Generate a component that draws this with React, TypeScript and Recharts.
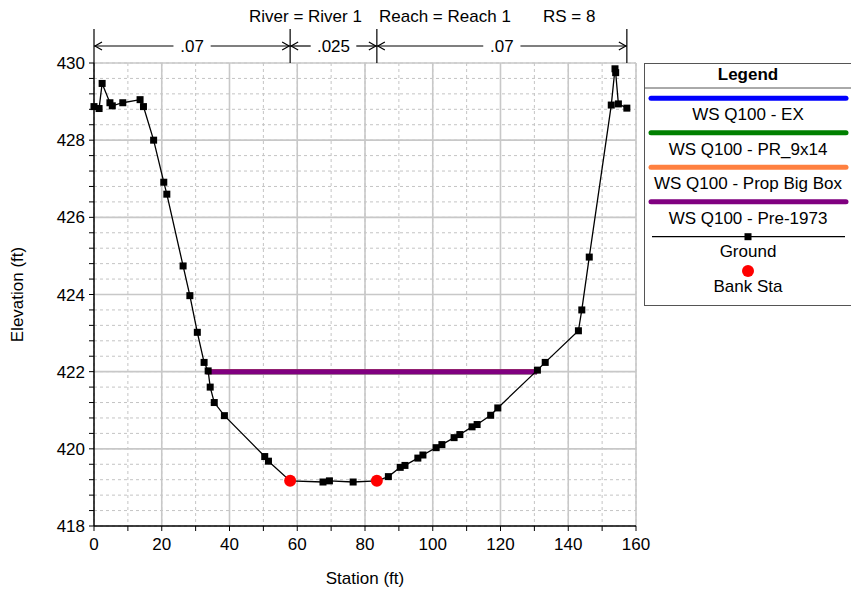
import React from 'react';
import { ComposedChart, Line, Scatter, XAxis, YAxis, CartesianGrid, ReferenceLine } from 'recharts';

// Ground survey points (station ft, elevation ft)
const groundStation = [
  0, 1.5, 2.4, 4.7, 5.4, 8.5, 13.6, 14.6, 17.6, 20.6, 21.5, 26.3, 28.3, 30.5, 32.5, 33.7, 34.3,
  35.5, 38.5, 50.4, 51.5, 57.9, 67.6, 69.5, 76.5, 83.5, 86.9, 90.4, 91.8, 95.6, 97.1, 101.0,
  102.7, 106.3, 108.0, 111.6, 113.1, 117.1, 119.2, 130.9, 133.2, 143.0, 144.0, 146.2, 152.7,
  153.8, 154.0, 154.8, 157.3,
];
const groundElev = [
  428.87, 428.82, 429.47, 428.97, 428.89, 428.97, 429.05, 428.87, 428.0, 426.91, 426.6, 424.74,
  423.97, 423.02, 422.24, 422.02, 421.6, 421.2, 420.86, 419.8, 419.68, 419.17, 419.14, 419.17,
  419.14, 419.17, 419.28, 419.52, 419.57, 419.76, 419.84, 420.03, 420.11, 420.29, 420.37, 420.57,
  420.63, 420.87, 421.06, 422.04, 422.24, 423.06, 423.6, 424.97, 428.91, 429.85, 429.75, 428.94,
  428.83,
];

const bankStation = [57.9, 83.5];
const bankElev = [419.17, 419.17];

// Water surface profiles (all plans give the same WS here)
const wsNames = ['WS Q100 - EX', 'WS Q100 - PR_9x14', 'WS Q100 - Prop Big Box', 'WS Q100 - Pre-1973'];
const wsColors = ['#0000ff', '#008000', '#ff8040', '#800080'];
const wsStation = [33.2, 130.8];
const wsElev = [422.0, 422.0];

// Manning's n between the section ends and bank stations
const nBreaks = [0, 57.9, 83.5, 157.3];
const nValues = ['.07', '.025', '.07'];

const xTicks = [0, 10, 20, 30, 40, 50, 60, 70, 80, 90, 100, 110, 120, 130, 140, 150, 160];
const xMajor = [20, 40, 60, 80, 100, 120, 140, 160];
const yTicks = [
  418, 418.4, 418.8, 419.2, 419.6, 420, 420.4, 420.8, 421.2, 421.6, 422, 422.4, 422.8, 423.2,
  423.6, 424, 424.4, 424.8, 425.2, 425.6, 426, 426.4, 426.8, 427.2, 427.6, 428, 428.4, 428.8,
  429.2, 429.6, 430,
];
const yMajor = [420, 422, 424, 426, 428, 430];

const groundData = groundStation.map((s, i) => ({ station: s, elev: groundElev[i] }));
const bankData = bankStation.map((s, i) => ({ station: s, elev: bankElev[i] }));
const wsData = wsStation.map((s, i) => ({ station: s, elev: wsElev[i] }));

const FONT = '"Liberation Sans", Arial, sans-serif';

const GroundDot = (p: any) => (
  <rect key={`g-${p.index}`} x={p.cx - 3.5} y={p.cy - 3.5} width={7} height={7} fill="#000" />
);

// vertical tick marking a roughness break above the plot
const BreakMark = (p: any) => {
  const top = Math.min(p.y1, p.y2);
  return <line x1={p.x1} x2={p.x1} y1={top - 34} y2={top} stroke="#000" strokeWidth={1.2} />;
};

const ArrowSpan = (p: any) => {
  const y = p.y1 - 17;
  const a = Math.min(p.x1, p.x2);
  const b = Math.max(p.x1, p.x2);
  const mid = (a + b) / 2;
  const tw = p.text.length * 8.4 + 12;
  return (
    <g>
      <line x1={a} x2={mid - tw / 2} y1={y} y2={y} stroke="#000" strokeWidth={1.2} />
      <line x1={mid + tw / 2} x2={b} y1={y} y2={y} stroke="#000" strokeWidth={1.2} />
      <polyline points={`${a + 8},${y - 4} ${a + 1},${y} ${a + 8},${y + 4}`} fill="none" stroke="#000" strokeWidth={1.2} />
      <polyline points={`${b - 8},${y - 4} ${b - 1},${y} ${b - 8},${y + 4}`} fill="none" stroke="#000" strokeWidth={1.2} />
      <text x={mid} y={y + 6} textAnchor="middle" fontSize={17} fill="#000">{p.text}</text>
    </g>
  );
};

function LegendBox() {
  const cx = 748;
  const rows = [98.3, 132.7, 167.3, 201.7];
  return (
    <g fontSize={17} fill="#000">
      <rect x={644.5} y={63.5} width={208} height={242} fill="#fff" stroke="#555" strokeWidth={1} />
      <line x1={644.5} x2={852} y1={88} y2={88} stroke="#555" strokeWidth={1} />
      <text x={cx} y={80} textAnchor="middle" fontWeight="bold">Legend</text>
      {wsNames.map((name, i) => (
        <g key={name}>
          <line x1={651} x2={846} y1={rows[i]} y2={rows[i]} stroke={wsColors[i]} strokeWidth={5} strokeLinecap="round" />
          <text x={cx} y={rows[i] + 22} textAnchor="middle">{name}</text>
        </g>
      ))}
      <line x1={652} x2={845} y1={236.7} y2={236.7} stroke="#000" strokeWidth={1.2} />
      <rect x={cx - 3.5} y={233.2} width={7} height={7} fill="#000" />
      <text x={cx} y={257} textAnchor="middle">Ground</text>
      <circle cx={cx} cy={271} r={6} fill="#ff0000" />
      <text x={cx} y={292} textAnchor="middle">Bank Sta</text>
    </g>
  );
}

export default function App() {
  return (
    <div style={{ position: 'absolute', left: 0, top: 0, width: 851, height: 591, background: '#fff', fontFamily: FONT }}>
      <ComposedChart
        width={851}
        height={591}
        margin={{ top: 63, right: 215, bottom: 35, left: 0 }}
        style={{ fontFamily: FONT }}
      >
        <CartesianGrid stroke="#c4c4c4" strokeDasharray="3 3" strokeWidth={1} />
        <XAxis
          dataKey="station"
          type="number"
          domain={[0, 160]}
          ticks={xTicks}
          interval={0}
          height={30}
          tickSize={5}
          tickMargin={7}
          tickFormatter={(v) => (xMajor.includes(v) || v === 0 ? String(v) : '')}
          tick={{ fill: '#000', fontSize: 17 }}
          axisLine={{ stroke: '#000', strokeWidth: 1.5 }}
          tickLine={{ stroke: '#000' }}
          label={{
            content: ({ viewBox }: any) => (
              <text x={viewBox.x + viewBox.width / 2} y={584} textAnchor="middle" fontSize={17} fill="#000">
                Station (ft)
              </text>
            ),
          }}
        />
        <YAxis
          type="number"
          domain={[418, 430]}
          ticks={yTicks}
          interval={0}
          width={94}
          tickSize={5}
          tickMargin={4}
          tickFormatter={(v) => (v === 418 || yMajor.includes(v) ? String(v) : '')}
          tick={{ fill: '#000', fontSize: 17 }}
          axisLine={{ stroke: '#000', strokeWidth: 1.5 }}
          tickLine={{ stroke: '#000' }}
          label={{
            content: ({ viewBox }: any) => {
              const y = viewBox.y + viewBox.height / 2;
              return (
                <text x={23} y={y} transform={`rotate(-90, 23, ${y})`} textAnchor="middle" fontSize={17} fill="#000">
                  Elevation (ft)
                </text>
              );
            },
          }}
        />

        {xMajor.map((v) => (
          <ReferenceLine key={`vx-${v}`} x={v} stroke="#c8c8c8" strokeWidth={1.6} />
        ))}
        {yMajor.map((v) => (
          <ReferenceLine key={`hy-${v}`} y={v} stroke="#c8c8c8" strokeWidth={1.6} />
        ))}

        {nBreaks.map((v) => (
          <ReferenceLine key={`nb-${v}`} x={v} ifOverflow="visible" shape={BreakMark} />
        ))}
        {nValues.map((n, i) => (
          <ReferenceLine
            key={`nv-${i}`}
            segment={[
              { x: nBreaks[i], y: 430 },
              { x: nBreaks[i + 1], y: 430 },
            ]}
            ifOverflow="visible"
            shape={(p: any) => <ArrowSpan {...p} text={n} />}
          />
        ))}

        {wsNames.map((name, i) => (
          <Line
            key={name}
            data={wsData}
            dataKey="elev"
            stroke={wsColors[i]}
            strokeWidth={5}
            dot={false}
            isAnimationActive={false}
          />
        ))}
        <Line
          data={groundData}
          dataKey="elev"
          stroke="#000"
          strokeWidth={1.3}
          dot={GroundDot}
          activeDot={false}
          isAnimationActive={false}
        />
        <Scatter
          data={bankData}
          dataKey="elev"
          isAnimationActive={false}
          shape={(p: any) => <circle cx={p.cx} cy={p.cy} r={6} fill="#ff0000" />}
        />
      </ComposedChart>

      <svg
        width={851}
        height={591}
        style={{ position: 'absolute', left: 0, top: 0, pointerEvents: 'none', fontFamily: FONT }}
      >
        <g fontSize={17} fill="#000">
          <text x={249} y={22}>River = River 1</text>
          <text x={379} y={22}>Reach = Reach 1</text>
          <text x={543} y={22}>RS = 8</text>
        </g>
        <LegendBox />
      </svg>
    </div>
  );
}
